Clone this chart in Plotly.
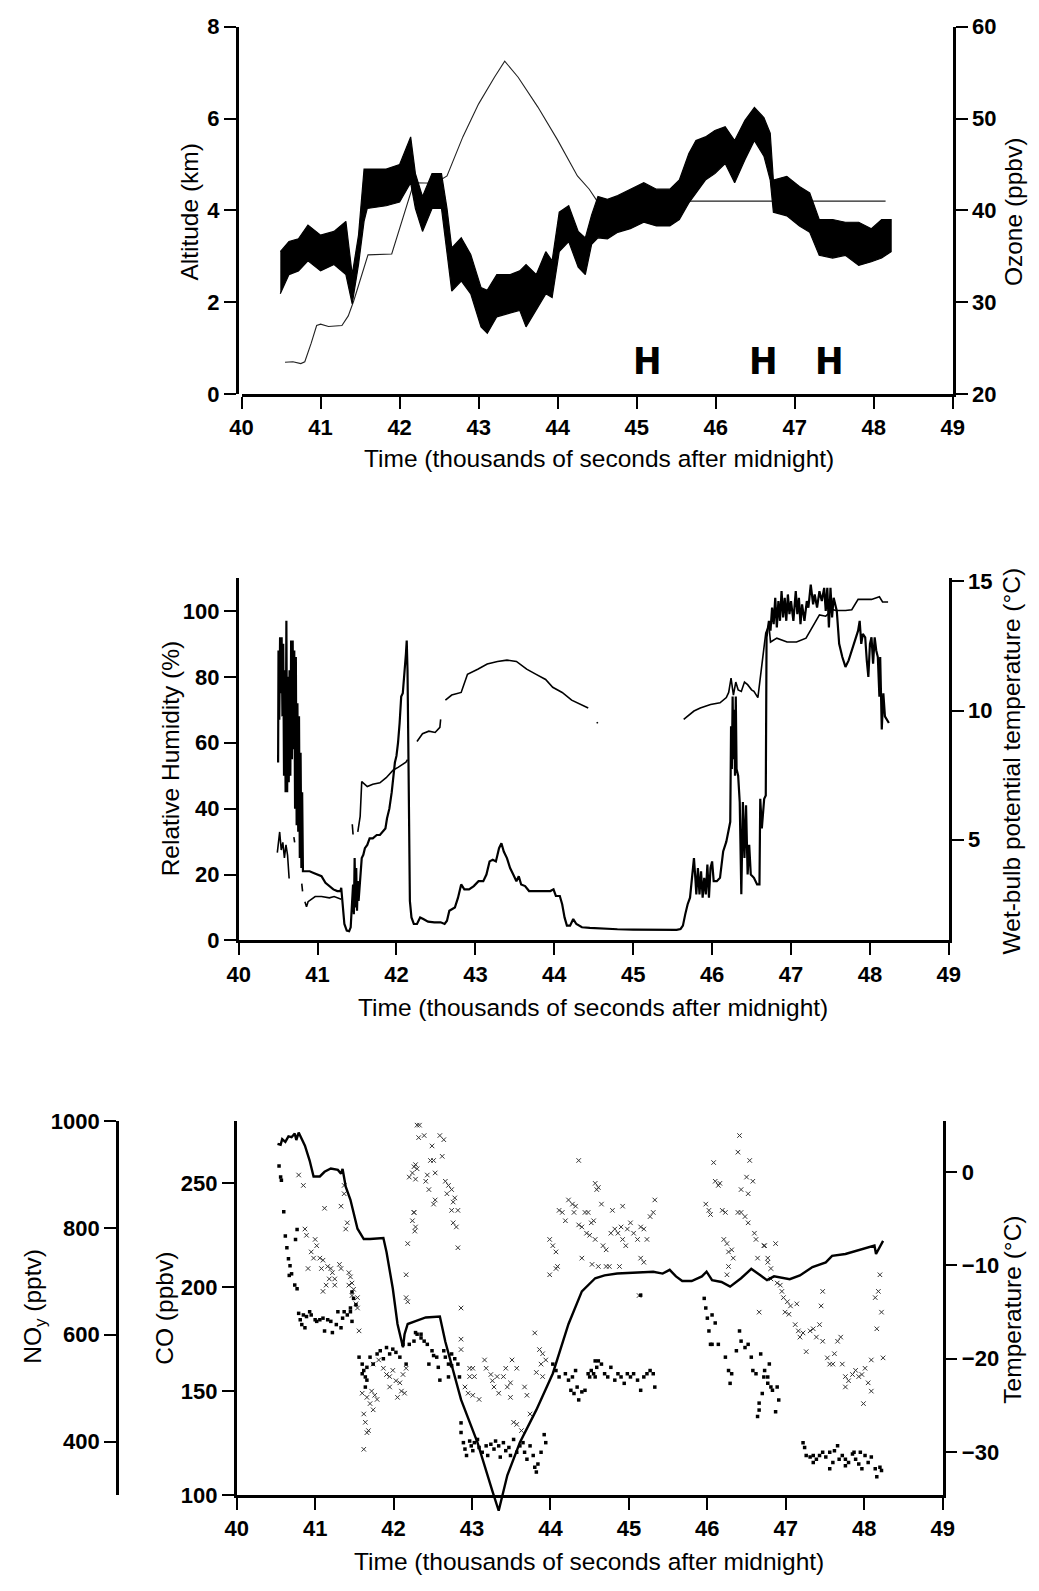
import plotly.graph_objects as go

W, H = 1039, 1591
FONT = "Liberation Sans, Arial, Helvetica, sans-serif"

# ---------------- Panel 1: altitude (km) and ozone (ppbv) ----------------
alt_time = [40.55, 40.65, 40.75, 40.80, 40.88, 40.95, 41.00, 41.10, 41.27, 41.35, 41.42,
            41.60, 41.90, 42.18, 42.45, 42.60, 42.80, 43.00, 43.20, 43.33, 43.50, 43.75,
            44.00, 44.25, 44.40, 44.50, 45.00, 46.00, 47.00, 48.15]
alt_km = [0.69, 0.70, 0.66, 0.70, 1.10, 1.49, 1.52, 1.47, 1.49, 1.70, 2.03,
          3.03, 3.05, 4.60, 4.59, 4.75, 5.60, 6.32, 6.90, 7.25, 6.90, 6.25,
          5.53, 4.75, 4.46, 4.20, 4.20, 4.20, 4.20, 4.20]

ozone_time = [40.49, 40.60, 40.72, 40.84, 41.00, 41.17, 41.32, 41.40, 41.48, 41.55, 41.59,
              41.83, 42.00, 42.14, 42.20, 42.29, 42.41, 42.53, 42.60, 42.66, 42.78, 42.90,
              43.03, 43.11, 43.23, 43.40, 43.52, 43.60, 43.73, 43.85, 43.93, 44.02, 44.14,
              44.26, 44.35, 44.43, 44.51, 44.63, 44.76, 44.92, 45.09, 45.25, 45.42, 45.54,
              45.66, 45.75, 45.87, 45.99, 46.12, 46.24, 46.37, 46.49, 46.61, 46.69, 46.73,
              46.90, 47.06, 47.19, 47.31, 47.48, 47.64, 47.81, 47.97, 48.10, 48.22]
ozone_high = [35.5, 36.6, 36.9, 38.4, 37.3, 37.7, 38.8, 33.0, 37.3, 44.5, 44.5,
              44.5, 45.0, 48.0, 44.0, 41.5, 44.0, 44.0, 40.2, 35.9, 37.0, 35.2,
              31.6, 31.3, 33.0, 33.0, 33.4, 34.1, 33.0, 35.5, 34.5, 39.8, 40.5,
              37.7, 37.0, 39.5, 41.5, 41.2, 41.6, 42.3, 43.0, 42.3, 42.3, 43.3,
              46.2, 47.6, 48.0, 48.7, 49.1, 47.6, 49.8, 51.2, 50.1, 48.4, 43.3,
              43.7, 42.6, 41.9, 39.0, 39.0, 38.7, 38.7, 38.0, 39.0, 39.0]
ozone_low = [30.9, 33.0, 33.4, 34.5, 33.4, 34.1, 33.0, 29.8, 34.1, 38.8, 40.2,
             40.5, 40.9, 43.0, 40.2, 37.7, 40.2, 40.2, 35.2, 31.2, 32.3, 30.9,
             27.3, 26.6, 28.4, 28.8, 29.1, 27.3, 29.1, 30.9, 30.5, 35.5, 36.6,
             33.8, 33.0, 36.3, 37.0, 36.9, 37.6, 38.0, 38.7, 38.3, 38.3, 39.0,
             40.8, 41.9, 43.3, 44.0, 45.1, 43.0, 45.5, 47.6, 45.9, 43.3, 39.8,
             39.4, 38.3, 37.6, 35.1, 34.8, 35.1, 34.0, 34.4, 34.8, 35.5]

h_label_time = [45.14, 46.60, 47.44]
h_label_alt = 0.71

# ---------------- Panel 2: relative humidity (%) and wet-bulb potential temperature ----------------
rh_time = [40.500, 40.505, 40.515, 40.525, 40.535, 40.545, 40.555, 40.565, 40.575, 40.585, 40.595,
           40.605, 40.615, 40.625, 40.635, 40.645, 40.655, 40.665, 40.675, 40.685, 40.695, 40.705,
           40.715, 40.725, 40.735, 40.745, 40.755, 40.765, 40.775, 40.785, 40.795, 40.805, 40.815,
           40.84, 40.90, 40.95, 41.00, 41.05, 41.10, 41.15, 41.20, 41.25, 41.29, 41.30, 41.32,
           41.34, 41.37, 41.40, 41.42, 41.44, 41.45, 41.46, 41.47, 41.48, 41.49, 41.50, 41.51,
           41.52, 41.54, 41.56, 41.58, 41.60, 41.63, 41.66, 41.70, 41.75, 41.79, 41.83, 41.86,
           41.88, 41.91, 41.94, 41.96, 41.98, 42.00, 42.02, 42.04, 42.06, 42.08, 42.10, 42.12,
           42.13, 42.14, 42.15, 42.16, 42.17, 42.19, 42.22, 42.26, 42.30, 42.34, 42.40, 42.48,
           42.56, 42.61, 42.64, 42.67, 42.70, 42.74, 42.78, 42.82, 42.86, 42.92, 42.98, 43.04,
           43.10, 43.14, 43.18, 43.22, 43.26, 43.30, 43.33, 43.36, 43.40, 43.44, 43.48, 43.52,
           43.55, 43.58, 43.63, 43.68, 43.75, 43.85, 43.95, 43.99, 44.02, 44.07, 44.10, 44.13,
           44.16, 44.20, 44.24, 44.28, 44.35, 44.45, 44.60, 44.80, 45.00, 45.30, 45.55, 45.60,
           45.63, 45.66, 45.69, 45.72, 45.75, 45.77, 45.79, 45.80, 45.82, 45.84, 45.86, 45.88,
           45.90, 45.92, 45.94, 45.96, 45.98, 46.00, 46.02, 46.06, 46.10, 46.14, 46.18, 46.21,
           46.23, 46.24, 46.25, 46.26, 46.27, 46.28, 46.29, 46.30, 46.31, 46.33, 46.35, 46.37,
           46.39, 46.41, 46.43, 46.45, 46.47, 46.49, 46.53, 46.57, 46.60, 46.61, 46.63, 46.66,
           46.68, 46.69, 46.72, 46.74, 46.76, 46.78, 46.80, 46.82, 46.84, 46.86, 46.88, 46.90,
           46.92, 46.94, 46.96, 46.98, 47.00, 47.03, 47.06, 47.08, 47.10, 47.12, 47.14, 47.17,
           47.20, 47.22, 47.25, 47.28, 47.30, 47.33, 47.36, 47.39, 47.42, 47.44, 47.46, 47.48,
           47.50, 47.52, 47.54, 47.58, 47.61, 47.65, 47.69, 47.73, 47.77, 47.81, 47.85, 47.87,
           47.89, 47.91, 47.94, 47.96, 47.98, 48.00, 48.02, 48.04, 48.06, 48.08, 48.10, 48.12,
           48.13, 48.15, 48.17, 48.19, 48.22, 48.24]
rh_pct = [54, 88, 67, 92, 75, 92, 68, 90, 50, 82, 45,
          97, 45, 80, 48, 82, 50, 91, 55, 91, 58, 88,
          40, 86, 35, 72, 33, 68, 25, 57, 22, 45, 21,
          21, 21, 20.5, 20, 19.5, 17.5, 16.5, 15.5, 15, 15, 16, 10,
          5, 3, 2.8, 4, 12, 17, 8, 25, 10, 22, 9, 18,
          12, 20, 25, 26, 28, 29, 31, 31, 32, 32, 33, 34,
          37, 40, 45, 50, 54, 56, 60, 66, 74, 75, 80, 87,
          91, 82, 60, 30, 12, 7, 5, 5, 7, 6.5, 5.7, 5.5,
          5.5, 5, 6, 9, 9.5, 10, 13, 17, 15.5, 15.5, 16.5, 18,
          18, 20, 24, 24.5, 24, 28, 29.5, 27, 25, 22, 20, 18,
          19.5, 17, 16.5, 15, 15, 15, 15, 15.5, 13.5, 13.5, 11, 7,
          4.5, 4.5, 6.5, 5, 4, 3.8, 3.6, 3.4, 3.3, 3.2, 3.2, 3.5,
          4.5, 8, 11, 13, 20, 25, 18, 14, 22, 14, 21, 13,
          19, 14, 23, 13, 22, 24, 18, 18, 19, 27, 30, 34,
          36, 65, 52, 74, 55, 70, 50, 74, 52, 50, 42, 14,
          42, 25, 41, 20, 29, 20, 19, 17, 17, 43, 34, 43,
          44, 92, 97, 94, 101, 96, 104, 95, 103, 97, 106, 98,
          104, 97, 105, 99, 103, 97, 106, 99, 104, 96, 102, 97,
          103, 101, 108, 102, 105, 101, 106, 103, 107, 100, 107, 95,
          107, 98, 104, 100, 90, 86, 83, 85, 88, 91, 94, 97,
          90, 93, 92, 85, 80, 90, 92, 84, 92, 88, 86, 74,
          86, 64, 75, 68, 67, 66]

wbt_time = [40.49, 40.52, 40.54, 40.56, 40.58, 40.60, 40.62, 40.64, None, 40.70, 40.71, None,
            40.80, 40.81, None, 40.84, 40.86, 40.88, 40.92, 40.97, 41.05, 41.15, 41.21, 41.30,
            None, 41.44, 41.45, None, 41.51, 41.54, 41.56, 41.58, 41.63, 41.70, 41.79, 41.87,
            41.96, 42.02, 42.12, 42.14, None, 42.26, 42.33, 42.41, 42.49, 42.55, 42.56, None,
            42.62, 42.70, 42.82, 42.86, 42.90, 43.03, 43.15, 43.28, 43.40, 43.52, 43.65, 43.77,
            43.89, 43.98, 44.10, 44.22, 44.35, 44.43, None, 44.54, 44.55, None,
            45.64, 45.70, 45.77, 45.85, 45.98, 46.10, 46.18, 46.21, 46.24, 46.27, 46.30, 46.33,
            46.37, 46.41, 46.45, 46.50, 46.53, 46.58, 46.62, 46.66, 46.68, 46.72, 46.74, 46.82,
            46.95, 47.07, 47.19, 47.28, 47.36, 47.44, 47.53, 47.57, 47.69, 47.77, 47.85, 47.94,
            48.02, 48.12, 48.16, 48.23]
wbt_c = [4.5, 5.3, 4.6, 4.9, 4.3, 4.8, 4.4, 3.5, None, 5.1, 4.9, None,
         3.3, 3.0, None, 2.6, 2.4, 2.6, 2.7, 2.8, 2.8, 2.75, 2.8, 2.7,
         None, 5.6, 5.2, None, 5.3, 5.9, 7.25, 7.2, 7.06, 7.15, 7.2, 7.4,
         7.7, 7.8, 8.0, 8.1, None, 8.8, 9.1, 9.2, 9.15, 9.35, 9.66, None,
         10.4, 10.6, 10.7, 11.1, 11.4, 11.6, 11.8, 11.9, 11.95, 11.9, 11.6, 11.4,
         11.2, 10.9, 10.7, 10.4, 10.2, 10.1, None, 9.55, 9.5, None,
         9.66, 9.8, 9.98, 10.1, 10.23, 10.3, 10.5, 10.7, 11.25, 10.6, 11.1, 10.8,
         10.74, 11.1, 11.0, 10.8, 10.74, 10.5, 11.4, 12.5, 13.0, 13.3, 12.65, 12.8,
         12.65, 12.65, 12.8, 13.3, 13.7, 13.65, 13.9, 13.87, 13.87, 13.9, 14.3, 14.3,
         14.3, 14.4, 14.2, 14.2]

circle_time = [45.0, 45.5, 46.0, 46.5, 47.0, 47.5, 48.0]
circle_level = 124.6

# ---------------- Panel 3: NOy (pptv), CO (ppbv) and temperature ----------------
temp_time = [40.52, 40.56, 40.58, 40.62, 40.66, 40.70, 40.74, 40.76, 40.79, 40.83, 40.87, 40.93,
             40.98, 41.06, 41.12, 41.20, 41.29, 41.33, 41.35, 41.39, 41.45, 41.54, 41.62, 41.70,
             41.87, 41.91, 41.99, 42.05, 42.12, 42.14, 42.18, 42.28, 42.41, 42.59, 42.66, 42.86,
             43.07, 43.26, 43.34, 43.45, 43.61, 43.82, 44.03, 44.23, 44.40, 44.57, 44.69, 44.85,
             45.06, 45.31, 45.43, 45.52, 45.60, 45.68, 45.80, 45.93, 45.99, 46.06, 46.18, 46.29,
             46.43, 46.56, 46.68, 46.76, 46.85, 46.93, 47.05, 47.18, 47.34, 47.51, 47.59, 47.76,
             47.93, 48.05, 48.13, 48.15, 48.24]
temp_c = [3.0, 2.9, 3.5, 3.2, 3.8, 3.7, 4.1, 3.4, 4.2, 3.5, 2.8, 1.2,
          -0.5, -0.5, 0.0, 0.35, 0.2, -0.2, 0.3, -1.6, -3.0, -6.1, -7.2, -7.2,
          -7.1, -8.6, -12.5, -16.3, -18.8, -17.4, -16.3, -16.0, -15.6, -15.5, -18.2, -24.4,
          -29.0, -34.2, -36.3, -32.5, -29.0, -25.5, -21.6, -16.3, -12.8, -11.4, -11.1, -10.9,
          -10.8, -10.7, -10.9, -10.5, -11.2, -11.7, -11.7, -11.2, -10.7, -11.6, -11.8, -12.3,
          -11.4, -10.4, -11.1, -11.6, -11.2, -11.3, -11.5, -11.1, -10.2, -9.7, -9.0, -8.8,
          -8.4, -8.1, -7.9, -8.8, -7.4]

co_time = [40.79, 40.85, 41.37, 41.37, 41.33, 41.41, 41.39, 41.12, 40.87, 40.89, 41.00, 41.02,
           40.95, 40.98, 41.06, 41.10, 40.91, 41.08, 41.16, 41.20, 41.22, 41.18, 41.14, 41.10,
           41.25, 41.25, 41.31, 41.33, 41.43, 41.45, 41.47, 41.43, 41.49, 41.47, 41.54, 41.52,
           41.54, 41.56, 41.74, 41.81, 41.87, 41.91, 41.95, 41.99, 42.03, 42.08, 42.12, 42.16,
           42.05, 42.10, 42.14, 41.95, 41.60, 41.66, 41.72, 41.76, 41.79, 41.70, 41.74, 41.62,
           41.64, 41.68, 41.66, 41.62, 42.30, 42.32, 42.26, 42.24, 42.20, 42.28, 42.26, 42.24,
           42.27, 42.18, 42.16, 42.16, 42.18,
           42.33, 42.33, 42.39, 42.49, 42.59, 42.64, 42.62, 42.47, 42.51, 42.28, 42.30, 42.43,
           42.53, 42.41, 42.45, 42.66, 42.70, 42.74, 42.68, 42.78, 42.76, 42.51, 42.53, 42.74,
           42.82, 42.76, 42.80, 42.82, 42.26, 42.28, 42.86,
           42.86, 42.86, 42.97, 43.01, 42.97, 43.03, 42.91, 42.95, 43.01, 43.09, 43.16, 43.18,
           43.24, 43.26, 43.28, 43.34, 43.32, 43.40, 43.43, 43.45, 43.49, 43.51, 43.57, 43.49,
           43.70, 43.67, 43.80, 43.86, 43.90, 43.94, 43.88, 43.82, 43.90, 43.53, 43.57, 43.63,
           43.74,
           43.99, 44.03, 44.07, 44.09, 43.99, 44.11, 44.15, 44.19, 44.23, 44.28, 44.32, 44.30,
           44.36, 44.40, 44.44, 44.46, 44.50, 44.55, 44.57, 44.59, 44.40, 44.53, 44.36, 44.07,
           44.48, 44.52, 44.57, 44.61, 44.65, 44.67, 44.71, 44.77, 44.82, 44.86, 44.90, 44.92,
           44.96, 44.98, 45.02, 45.06, 45.11, 45.15, 45.19, 45.23, 45.27, 45.31, 45.33, 44.79,
           44.92, 45.15, 45.19, 44.88, 44.75, 44.71, 44.61, 45.13,
           45.98, 46.02, 46.04, 46.08, 46.10, 46.14, 46.19, 46.16, 46.23, 46.21, 46.25, 46.27,
           46.31, 46.33, 46.27, 46.25, 46.39, 46.43, 46.48, 46.52, 46.43, 46.52, 46.41, 46.39,
           46.50, 46.54, 46.58, 46.60, 46.62, 46.64, 46.66, 46.72, 46.77, 46.81,
           46.73, 46.77, 46.81, 46.87, 46.89, 46.93, 46.95, 46.97, 47.02, 46.99, 47.04, 47.06,
           47.14, 47.12, 47.16, 47.18, 47.22, 47.26, 47.31, 47.35, 47.39, 47.43, 47.47, 47.53,
           47.56, 47.60, 47.62, 47.66, 47.70, 47.72, 47.76, 47.80, 47.85, 47.89, 47.93, 47.97,
           48.01, 48.05, 48.09, 47.99, 47.76, 48.14, 48.18, 48.22, 48.16, 48.20, 48.24, 47.47,
           47.45, 48.09]
co_ppbv = [254, 249, 249, 245, 239, 231, 228, 238, 228, 225, 223, 220,
           217, 214, 214, 213, 209, 209, 210, 209, 207, 204, 201, 198,
           204, 201, 211, 209, 207, 205, 202, 201, 199, 196, 195, 192,
           190, 179, 163, 165, 161, 158, 157, 160, 155, 154, 158, 161,
           147, 150, 149, 152, 149, 147, 150, 148, 146, 144, 141, 139,
           135, 131, 130, 122, 278, 272, 258, 255, 253, 252, 236, 232,
           227, 221, 206, 195, 193,
           282, 278, 273, 268, 273, 271, 263, 261, 261, 259, 257, 254,
           255, 251, 247, 251, 249, 247, 245, 243, 241, 240, 242, 237,
           237, 231, 229, 219, 236, 229, 190,
           175, 170, 161, 161, 157, 157, 152, 149, 148, 146, 165, 161,
           158, 155, 152, 149, 157, 157, 161, 152, 154, 165, 161, 147,
           148, 152, 178, 170, 168, 165, 163, 159, 157, 135, 134, 131,
           139,
           223, 220, 217, 210, 206, 237, 236, 232, 242, 240, 239, 236,
           230, 229, 236, 226, 225, 232, 250, 247, 214, 211, 261, 209,
           236, 231, 223, 248, 240, 220, 218, 226, 228, 226, 229, 223,
           220, 228, 231, 226, 223, 229, 228, 223, 234, 236, 242, 237,
           239, 214, 212, 210, 210, 210, 210, 196,
           240, 237, 235, 260, 251, 249, 237, 250, 236, 223, 221, 217,
           218, 214, 210, 206, 236, 236, 234, 231, 247, 245, 273, 265,
           253, 261, 251, 226, 223, 214, 188, 220, 212, 204,
           220, 214, 209, 221, 202, 201, 198, 195, 193, 188, 187, 191,
           192, 182, 179, 176, 178, 169, 179, 180, 176, 182, 174, 166,
           163, 163, 168, 174, 176, 163, 157, 155, 158, 160, 157, 158,
           161, 154, 150, 144, 152, 195, 198, 188, 180, 206, 166, 198,
           191, 165]

noy_time = [40.54, 40.56, 40.57, 40.60, 40.62, 40.64, 40.66, 40.68, 40.67, 40.70, 40.77, 40.74,
            40.77, 40.75, 40.79, 40.81, 40.83, 40.85, 40.87, 40.89, 40.93, 40.95, 41.00, 41.02,
            41.06, 41.10, 41.12, 41.16, 41.20, 41.22, 41.27, 41.29, 41.33, 41.35, 41.37, 41.41,
            41.45, 41.47, 41.47, 41.49, 41.52, 41.45, 41.56, 41.60, 41.62, 41.64, 41.66, 41.70,
            41.74, 41.79, 41.83, 41.87, 41.91, 41.95, 41.99, 42.03, 42.08, 42.12, 42.16, 42.20,
            42.26, 42.30, 42.35, 41.60, 41.66, 41.64,
            42.28, 42.35, 42.39, 42.43, 42.49, 42.51, 42.55, 42.45, 42.57, 42.64, 42.66, 42.70,
            42.74, 42.78, 42.74, 42.59, 42.70, 42.82, 42.84,
            42.86, 42.86, 42.89, 42.91, 42.93, 42.97, 42.99, 43.01, 43.03, 43.07, 43.09, 43.13,
            43.18, 43.20, 43.24, 43.28, 43.30, 43.34, 43.36, 43.40, 43.43, 43.47, 43.49, 43.53,
            43.57, 43.61, 43.65, 43.67, 43.70, 43.74, 43.78, 43.80, 43.84, 43.82, 43.88, 43.92,
            43.94,
            44.03, 44.07, 44.11, 44.19, 44.23, 44.28, 44.32, 44.26, 44.30, 44.34, 44.36, 44.40,
            44.44, 44.50, 44.55, 44.57, 44.59,
            44.48, 44.52, 44.57, 44.61, 44.65, 44.69, 44.73, 44.77, 44.82, 44.86, 44.90, 44.94,
            44.98, 45.02, 45.06, 45.11, 45.15, 45.19, 45.23, 45.27, 45.31, 45.33, 45.15,
            45.96, 45.98, 46.00, 46.06, 46.10, 46.02, 46.04, 46.06, 46.14, 46.23, 46.27, 46.29,
            46.31, 46.37, 46.41, 46.43, 46.48, 46.52, 46.56, 46.58, 46.62, 46.68, 46.72, 46.77,
            46.70, 46.66, 46.64, 46.66,
            46.73, 46.77, 46.81, 46.83, 46.89, 46.91, 46.87, 46.79,
            47.22, 47.24, 47.26, 47.31, 47.35, 47.39, 47.43, 47.47, 47.51, 47.56, 47.60, 47.62,
            47.66, 47.68, 47.72, 47.76, 47.80, 47.85, 47.89, 47.93, 47.97, 48.01, 48.05, 48.09,
            48.14, 48.16, 48.20, 48.22, 47.76, 47.87, 47.95, 47.35, 47.56]
noy_pptv = [916, 895, 889, 830, 785, 763, 742, 729, 711, 714, 686, 693,
            797, 778, 640, 628, 619, 637, 613, 634, 643, 637, 628, 625,
            628, 631, 607, 628, 625, 604, 619, 643, 613, 631, 643, 637,
            650, 625, 680, 668, 656, 643, 558, 545, 533, 521, 539, 558,
            545, 564, 570, 555, 576, 564, 573, 567, 558, 582, 545, 582,
            588, 601, 594, 527, 515, 502,
            604, 601, 588, 582, 570, 561, 558, 545, 539, 570, 558, 545,
            564, 555, 542, 515, 521, 545, 521,
            435, 417, 398, 386, 374, 401, 392, 383, 398, 404, 389, 380,
            392, 374, 395, 386, 401, 392, 371, 398, 383, 389, 374, 404,
            380, 392, 398, 380, 367, 392, 374, 352, 358, 343, 380, 413,
            398,
            545, 533, 521, 527, 515, 521, 533, 496, 490, 502, 478, 493,
            496, 521, 527, 551, 539,
            527, 533, 521, 551, 545, 527, 521, 539, 515, 527, 521, 509,
            527, 521, 527, 515, 496, 521, 527, 533, 527, 502, 674,
            668, 650, 631, 637, 622, 607, 582, 582, 582, 558, 533, 509,
            527, 570, 607, 588, 576, 582, 558, 533, 527, 564, 521, 509,
            490, 472, 447, 459,
            533, 521, 502, 496, 502, 478, 456, 545,
            398, 389, 374, 371, 361, 367, 374, 380, 371, 380, 361, 383,
            392, 367, 374, 355, 361, 377, 367, 358, 349, 374, 361, 371,
            349, 334, 352, 346, 367, 380, 380, 374, 349]

time_ticks = list(range(40, 50))


def px_x(px):
    return px / W


def px_y(py):
    return 1 - py / H


tick_font = dict(family=FONT, size=22, color="black", weight="bold")
axis_common = dict(showline=True, linecolor="black", linewidth=2.5, ticks="outside",
                   ticklen=12, tickwidth=2, tickcolor="black", showgrid=False,
                   zeroline=False, tickfont=tick_font, fixedrange=True)

fig = go.Figure()

# Panel 1 traces
fig.add_trace(go.Scatter(
    x=ozone_time + ozone_time[::-1], y=ozone_high + ozone_low[::-1],
    fill="toself", fillcolor="black", mode="lines",
    line=dict(color="black", width=1.2), xaxis="x", yaxis="y2", showlegend=False))
fig.add_trace(go.Scatter(
    x=alt_time, y=alt_km, mode="lines", line=dict(color="#222", width=1.1),
    xaxis="x", yaxis="y", showlegend=False))

# Panel 2 traces
fig.add_trace(go.Scatter(
    x=wbt_time, y=wbt_c, mode="lines", line=dict(color="black", width=1.6),
    connectgaps=False, xaxis="x2", yaxis="y4", showlegend=False))
fig.add_trace(go.Scatter(
    x=rh_time, y=rh_pct, mode="lines", line=dict(color="black", width=2.2),
    xaxis="x2", yaxis="y3", showlegend=False))
fig.add_trace(go.Scatter(
    x=circle_time, y=[circle_level] * len(circle_time), mode="markers",
    marker=dict(symbol="circle-open", size=10, color="black", line=dict(width=2.6)),
    cliponaxis=False, xaxis="x2", yaxis="y3", showlegend=False))

# Panel 3 traces
fig.add_trace(go.Scatter(
    x=co_time, y=co_ppbv, mode="markers",
    marker=dict(symbol="x-thin", size=4.5, color="#333", line=dict(width=1, color="#333")),
    xaxis="x3", yaxis="y5", showlegend=False))
fig.add_trace(go.Scatter(
    x=noy_time, y=noy_pptv, mode="markers",
    marker=dict(symbol="square", size=3.5, color="black"),
    xaxis="x3", yaxis="y6", showlegend=False))
fig.add_trace(go.Scatter(
    x=temp_time, y=temp_c, mode="lines", line=dict(color="black", width=2.4),
    xaxis="x4", yaxis="y8", showlegend=False))

top_dom = [px_y(388), px_y(15)]
mid_dom = [px_y(943.3), px_y(575)]
bot_dom = [px_y(1506.7), px_y(1126.7)]
temp_dom = [px_y(1535), px_y(1126.7)]

layout = dict(
    width=W, height=H, autosize=False,
    margin=dict(l=0, r=0, t=0, b=0),
    paper_bgcolor="white", plot_bgcolor="rgba(0,0,0,0)",
    font=dict(family=FONT, color="black"),
    showlegend=False,
    # panel 1
    xaxis=dict(axis_common, domain=[px_x(235), px_x(963)], range=[40, 49],
               tickvals=time_ticks, anchor="y"),
    yaxis=dict(axis_common, domain=top_dom, range=[0, 8], tickvals=[0, 2, 4, 6, 8],
               anchor="free", position=px_x(230), side="left"),
    yaxis2=dict(axis_common, overlaying="y", side="right", anchor="x", range=[20, 60],
                tickvals=[20, 30, 40, 50, 60]),
    # panel 2
    xaxis2=dict(axis_common, domain=[px_x(232), px_x(959)], range=[40, 49],
                tickvals=time_ticks, anchor="y3"),
    yaxis3=dict(axis_common, domain=mid_dom, range=[0, 110],
                tickvals=[0, 20, 40, 60, 80, 100], anchor="x2"),
    yaxis4=dict(axis_common, overlaying="y3", side="right", anchor="x2",
                range=[1.1, 15.13], tickvals=[5, 10, 15]),
    # panel 3
    xaxis3=dict(axis_common, domain=[px_x(230), px_x(952.7)], range=[40, 49],
                tickvals=time_ticks, anchor="y5"),
    yaxis5=dict(axis_common, domain=bot_dom, range=[100, 280],
                tickvals=[100, 150, 200, 250], anchor="x3"),
    yaxis6=dict(axis_common, overlaying="y5", anchor="free", position=px_x(107.3),
                side="left", range=[300, 1000], tickvals=[400, 600, 800, 1000]),
    yaxis7=dict(axis_common, overlaying="y5", side="right", anchor="x3",
                range=[-34.6, 5.44], tickvals=[-30, -20, -10, 0]),
    xaxis4=dict(domain=[px_x(230), px_x(952.7)], range=[40, 49], visible=False,
                anchor="y8", fixedrange=True),
    yaxis8=dict(domain=temp_dom, range=[-37.6, 5.44], visible=False, anchor="x4",
                fixedrange=True),
)
fig.update_layout(**layout)

# The right temperature axis needs something plotted on it to be drawn
fig.add_trace(go.Scatter(x=[None], y=[None], xaxis="x3", yaxis="y7", showlegend=False))

title_font = dict(family=FONT, size=24.5, color="black")
titles = [
    ("Altitude (km)", 182, 203, -90),
    ("Ozone (ppbv)", 1026, 203, -90),
    ("Time (thousands of seconds after midnight)", 601, 454, 0),
    ("Relative Humidity (%)", 162, 758, -90),
    ("Wet-bulb potential temperature (°C)", 1023, 761, -90),
    ("Time (thousands of seconds after midnight)", 595, 1011, 0),
    ("NO<sub>y</sub> (pptv)", 23, 1315, -90),
    ("CO (ppbv)", 156, 1317, -90),
    ("Temperature (°C)", 1024, 1318, -90),
    ("Time (thousands of seconds after midnight)", 591, 1574, 0),
]
for text, x, y, ang in titles:
    fig.add_annotation(text=text, x=px_x(x), y=px_y(y), xref="paper", yref="paper",
                       xanchor="center", yanchor="middle", textangle=ang,
                       showarrow=False, font=title_font)

for t in h_label_time:
    fig.add_annotation(text="H", x=t, y=h_label_alt, xref="x", yref="y",
                       xanchor="center", yanchor="middle", showarrow=False,
                       font=dict(family="Liberation Sans Narrow, DejaVu Sans Condensed, Arial",
                                 size=38, color="black", weight="bold"))

fig.write_html("out.html")
